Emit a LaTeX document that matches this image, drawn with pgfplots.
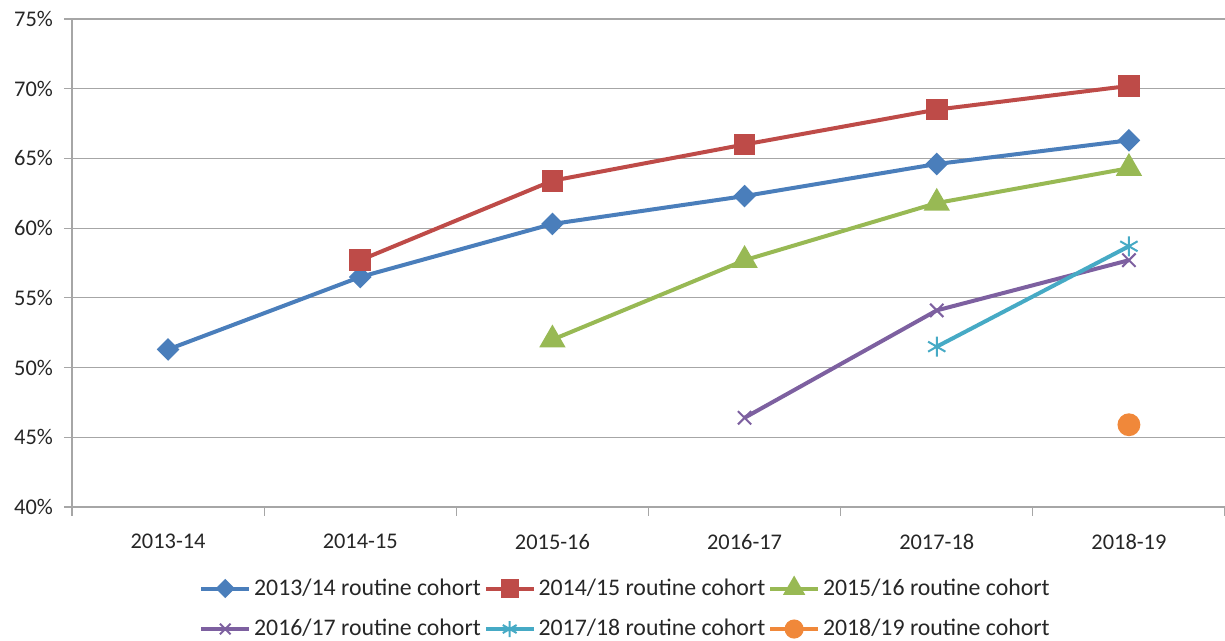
\documentclass[border=0pt]{standalone}
\usepackage{pgfplots}
\pgfplotsset{compat=1.18}
\usepackage{fontspec}
\setmainfont{Carlito}
\definecolor{cblue}{HTML}{4A7EBB}
\definecolor{cred}{HTML}{BE4B48}
\definecolor{cgreen}{HTML}{98B954}
\definecolor{cpurple}{HTML}{7D60A0}
\definecolor{ccyan}{HTML}{46AAC5}
\definecolor{corange}{HTML}{F0883A}
\definecolor{cgrid}{HTML}{A6A6A6}
\definecolor{ctext}{HTML}{262626}
\begin{document}
\begin{tikzpicture}
\begin{axis}[
  scale only axis,
  width=576.5pt, height=244pt,
  xmin=-0.5, xmax=5.5,
  ymin=40, ymax=75,
  ytick={40,45,...,75},
  xtick={0,...,5},
  xticklabels={2013-14,2014-15,2015-16,2016-17,2017-18,2018-19},
  minor xtick={-0.5,0.5,...,5.5},
  major x tick style={draw=none},
  minor tick length=4.5pt,
  major tick length=4pt,
  tick align=outside,
  tick style={cgrid, line width=0.6pt},
  axis x line*=bottom, axis y line*=left,
  axis line style={cgrid, line width=0.6pt, -},
  ymajorgrids,
  grid style={cgrid, line width=0.6pt},
  yticklabel={\pgfmathprintnumber{\tick}\%},
  /pgf/number format/assume math mode=true,
  ticklabel style={font=\fontsize{11.2}{13}\selectfont, text=ctext},
  xticklabel style={yshift=-6pt},
  yticklabel style={xshift=-2pt},
  legend style={
    at={(0.4805,-0.138)}, anchor=north,
    draw=none, fill=none,
    font=\fontsize{11.9}{14}\selectfont, text=ctext,
    legend columns=3,
    /tikz/every even column/.append style={column sep=0pt},
    nodes={inner xsep=1.5pt},
    row sep=6.5pt,
    inner xsep=0pt, inner ysep=0pt,
  },
  legend image code/.code={
    \draw[mark repeat=2,mark phase=2, every mark/.append style={scale=0.8}] plot coordinates {(0cm,0cm) (0.42cm,0cm) (0.84cm,0cm)};
  },
  every axis plot/.append style={line width=2pt, mark options={solid}},
  clip=false,
]
\addplot[cblue, mark=square*, mark size=3pt, mark options={solid, rotate=45}] coordinates {(0,51.3) (1,56.5) (2,60.3) (3,62.3) (4,64.6) (5,66.3)};
\addlegendentry{2013/14 routine cohort}
\addplot[cred, mark=square*, mark size=4.4pt] coordinates {(1,57.7) (2,63.4) (3,66.0) (4,68.5) (5,70.2)};
\addlegendentry{2014/15 routine cohort}
\addplot[cgreen, mark=triangle*, mark size=5.6pt] coordinates {(2,52.0) (3,57.7) (4,61.8) (5,64.3)};
\addlegendentry{2015/16 routine cohort}
\addplot[cpurple, mark=x, mark size=4.7pt, mark options={solid, line width=1pt}] coordinates {(3,46.4) (4,54.1) (5,57.7)};
\addlegendentry{2016/17 routine cohort}
\addplot[ccyan, mark=asterisk, mark size=5pt, mark options={solid, line width=1pt}] coordinates {(4,51.5) (5,58.7)};
\addlegendentry{2017/18 routine cohort}
\addplot[corange, only marks, mark=*, mark size=4.7pt, forget plot] coordinates {(5,45.9)};
\addlegendimage{corange, line width=2pt, mark=*, mark size=4.7pt}
\addlegendentry{2018/19 routine cohort}
\end{axis}
\pgfresetboundingbox
\path (-36pt,-67pt) rectangle (576.5pt,253.5pt);
\end{tikzpicture}
\end{document}
